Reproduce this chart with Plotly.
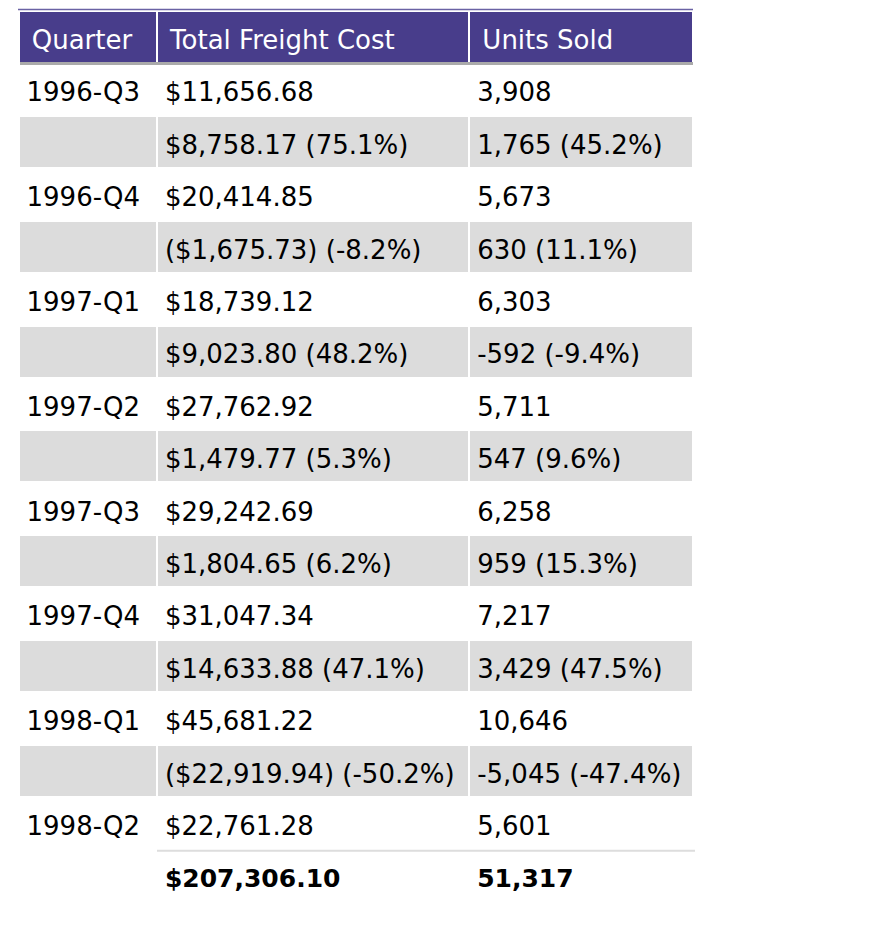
import plotly.graph_objects as go

# ---- data ----
quarters = ["1996-Q3", "1996-Q4", "1997-Q1", "1997-Q2", "1997-Q3", "1997-Q4", "1998-Q1", "1998-Q2"]
freight_cost = [11656.68, 20414.85, 18739.12, 27762.92, 29242.69, 31047.34, 45681.22, 22761.28]
units_sold = [3908, 5673, 6303, 5711, 6258, 7217, 10646, 5601]
freight_change = [8758.17, -1675.73, 9023.80, 1479.77, 1804.65, 14633.88, -22919.94]
freight_change_pct = [75.1, -8.2, 48.2, 5.3, 6.2, 47.1, -50.2]
units_change = [1765, 630, -592, 547, 959, 3429, -5045]
units_change_pct = [45.2, 11.1, -9.4, 9.6, 15.3, 47.5, -47.4]
total_freight = 207306.10
total_units = 51317
headers = ["Quarter", "Total Freight Cost", "Units Sold"]

NB = "\u00a0"
TXT = 26      # visible text size (px)
BOLD = 25     # visible size of the bold totals
LIFT = 6      # raised blank at the end of each cell: pushes the text lower in its cell


def money(v):
    s = "${:,.2f}".format(abs(v))
    return "(" + s + ")" if v < 0 else s


def pct(p):
    return "({:.1f}%)".format(p)


def cell(s, size=TXT, bold=False, pull=True):
    s = s.replace(" ", NB)
    if bold:
        s = "<b>" + s + "</b>"
    lead = ('<span style="font-size:%spx;letter-spacing:-12px">' % TXT + NB + "</span>") if pull else ""
    return (lead + '<span style="font-size:%spx">' % size + s + "</span>"
            + '<span style="font-size:%spx;baseline-shift:%spx">' % (TXT, LIFT) + NB + "</span><br>")


col_q, col_f, col_u, fills = [], [], [], []
GREY = "#dcdcdc"
for i, q in enumerate(quarters):
    col_q.append(cell(q))
    col_f.append(cell(money(freight_cost[i])))
    col_u.append(cell("{:,}".format(units_sold[i])))
    fills.append("white")
    if i < len(freight_change):
        col_q.append(cell(""))
        col_f.append(cell(money(freight_change[i]) + " " + pct(freight_change_pct[i])))
        col_u.append(cell("{:,}".format(units_change[i]) + " " + pct(units_change_pct[i])))
        fills.append(GREY)

col_q.append(cell(""))
col_f.append(cell(money(total_freight), BOLD, True))
col_u.append(cell("{:,}".format(total_units), BOLD, True))
fills.append("white")

n = len(col_q)

# the page body adds an 8px offset; positions below are in figure pixels
W, H = 872, 927
x0, x1 = 10.5, 686
top = 3
HEADER_H = 52.4
ROW_H = 52.4

fig = go.Figure(go.Table(
    domain=dict(x=[x0 / W, x1 / W], y=[0, 1 - top / H]),
    columnwidth=[138.5, 312.5, 224.5],
    header=dict(
        values=[cell("\u2009" + h, pull=False) for h in headers],
        fill_color="#483D8B",
        line=dict(color="white", width=2.5),
        font=dict(family="DejaVu Sans", size=TXT, color="white"),
        align="left",
        height=HEADER_H,
    ),
    cells=dict(
        values=[col_q, col_f, col_u],
        fill_color=[fills, fills, fills],
        line=dict(color="white", width=2.5),
        font=dict(family="DejaVu Sans", size=TXT, color="black"),
        align="left",
        height=ROW_H,
    ),
))

header_bottom = top + HEADER_H
total_top = header_bottom + ROW_H * (n - 1)
fig.update_layout(
    width=W, height=H,
    margin=dict(l=0, r=0, t=0, b=0),
    paper_bgcolor="white",
    shapes=[
        dict(type="line", xref="paper", yref="paper",
             x0=10 / W, x1=685 / W, y0=1 - 1.5 / H, y1=1 - 1.5 / H,
             line=dict(color="#6a62a4", width=1.5)),
        dict(type="rect", xref="paper", yref="paper",
             x0=12 / W, x1=685 / W, y0=1 - (header_bottom - 1.5) / H, y1=1 - (header_bottom + 1.5) / H,
             fillcolor="#aaaaaa", line=dict(width=0)),
        dict(type="line", xref="paper", yref="paper",
             x0=149 / W, x1=687 / W, y0=1 - (total_top + 1.3) / H, y1=1 - (total_top + 1.3) / H,
             line=dict(color="#dddddd", width=2)),
    ],
)

fig.write_html("out.html")
